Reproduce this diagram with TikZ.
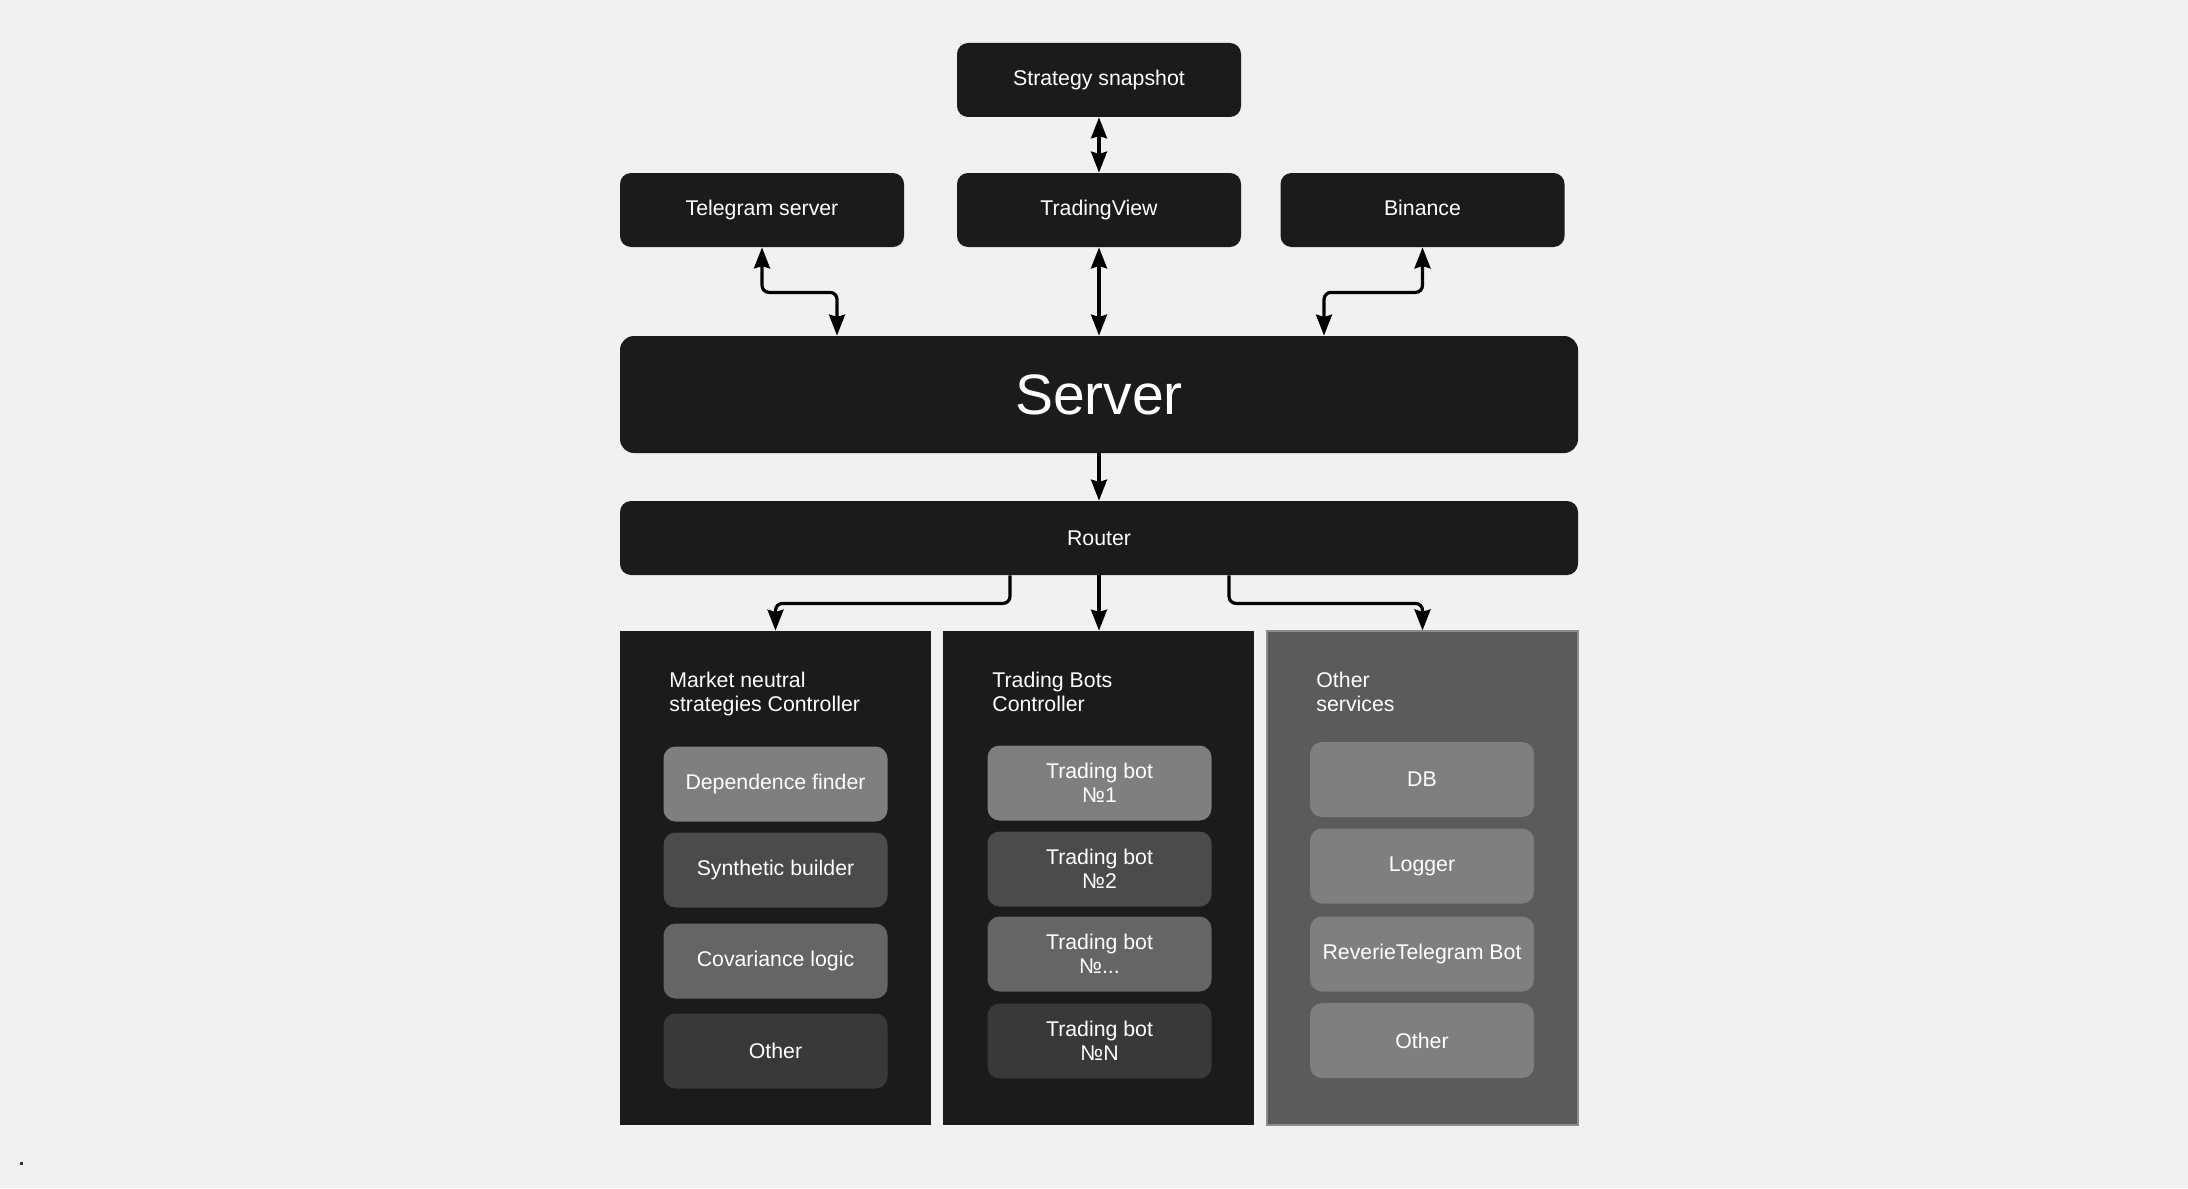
\documentclass[tikz,border=0pt]{standalone}
\usepackage{fontspec}
\setmainfont{Liberation Sans}
\usetikzlibrary{arrows.meta}
\definecolor{bgc}{HTML}{F1F1F1}
\definecolor{dark}{HTML}{1B1B1B}
\definecolor{pgrey}{HTML}{5B5B5B}
\definecolor{gA}{HTML}{7F7F7F}
\definecolor{gB}{HTML}{4B4B4B}
\definecolor{gC}{HTML}{656565}
\definecolor{gD}{HTML}{393939}
\tikzset{
  txt/.style={font=\fontsize{10.65}{12}\selectfont, text=white},
  box/.style={txt, fill=dark, rounded corners=5.5pt, minimum width=142pt, minimum height=37pt, inner sep=0pt, align=center},
  wide/.style={box, minimum width=479pt},
  panel/.style={fill=#1, minimum width=155.5pt, minimum height=247pt, inner sep=0pt},
  inner/.style={txt, fill=#1, rounded corners=6pt, minimum width=112pt, minimum height=37.5pt, inner sep=0pt, align=center},
  head/.style={txt, anchor=west, align=left, inner sep=0pt},
  link/.style={line width=1.6pt, rounded corners=3.5pt, -{Stealth[length=10.5pt,width=8pt,inset=1.2pt]}},
  blink/.style={link, {Stealth[length=10.5pt,width=8pt,inset=1.2pt]}-{Stealth[length=10.5pt,width=8pt,inset=1.2pt]}}
}
\begin{document}
\begin{tikzpicture}[x=0.5pt,y=-0.5pt]
\fill[bgc] (0,0) rectangle (2188,1188);
\useasboundingbox (0,0) rectangle (2188,1188);
\fill[black!80] (20,1162) rectangle (23,1165);
% top boxes
\node[box] (snap) at (1099,80) {Strategy snapshot};
\node[box] (tg) at (762,210) {Telegram server};
\node[box] (tv) at (1099,210) {TradingView};
\node[box] (bn) at (1422.5,210) {Binance\vphantom{g}};
\node[wide, minimum height=58.5pt, rounded corners=7pt, font=\fontsize{28.5}{30}\selectfont] (server) at (1099,394.5) {Server};
\node[wide] (router) at (1099,538) {Router};
% panels
\node[panel=dark] (p1) at (775.5,878) {};
\node[panel=dark] (p2) at (1098.5,878) {};
\node[panel=pgrey, draw=black!45, line width=0.6pt] (p3) at (1422.5,878) {};
\node[head] (h1) at (669,694) {Market neutral\\strategies Controller};
\node[head] (h2) at (992,691.5) {Trading Bots\\Controller};
\node[head] (h3) at (1316,692) {Other\\services};
% inner boxes panel 1
\node[inner=gA] (a1) at (775.5,784) {Dependence finder};
\node[inner=gB] (a2) at (775.5,870) {Synthetic builder};
\node[inner=gC] (a3) at (775.5,961) {Covariance logic};
\node[inner=gD] (a4) at (775.5,1051) {Other};
% panel 2
\node[inner=gA] (b1) at (1099.5,783) {Trading bot\\№1};
\node[inner=gB] (b2) at (1099.5,869) {Trading bot\\№2};
\node[inner=gC] (b3) at (1099.5,954) {Trading bot\\№...};
\node[inner=gD] (b4) at (1099.5,1041) {Trading bot\\№N};
% panel 3
\node[inner=gA] (c1) at (1422,779.5) {DB};
\node[inner=gA] (c2) at (1422,866) {Logger};
\node[inner=gA] (c3) at (1422,954) {ReverieTelegram Bot};
\node[inner=gA] (c4) at (1422,1040.5) {Other};
% helper x positions
\coordinate (tgin) at (837,0);
\coordinate (bnin) at (1324,0);
\coordinate (r1) at (1010,0);
\coordinate (r3) at (1229,0);
% connectors
\draw[blink] (snap.south) -- (tv.north);
\draw[blink] (tv.south) -- (server.north);
\draw[blink] (tg.south) -- ++(0,45) -| (server.north -| tgin);
\draw[blink] (bn.south) -- ++(0,45) -| (server.north -| bnin);
\draw[link] (server.south) -- (router.north);
\draw[link] (router.south -| r1) -- ++(0,28) -| (p1.north);
\draw[link] (router.south) -- (router.south |- p2.north);
\draw[link] (router.south -| r3) -- ++(0,28) -| (p3.north);
\end{tikzpicture}
\end{document}
